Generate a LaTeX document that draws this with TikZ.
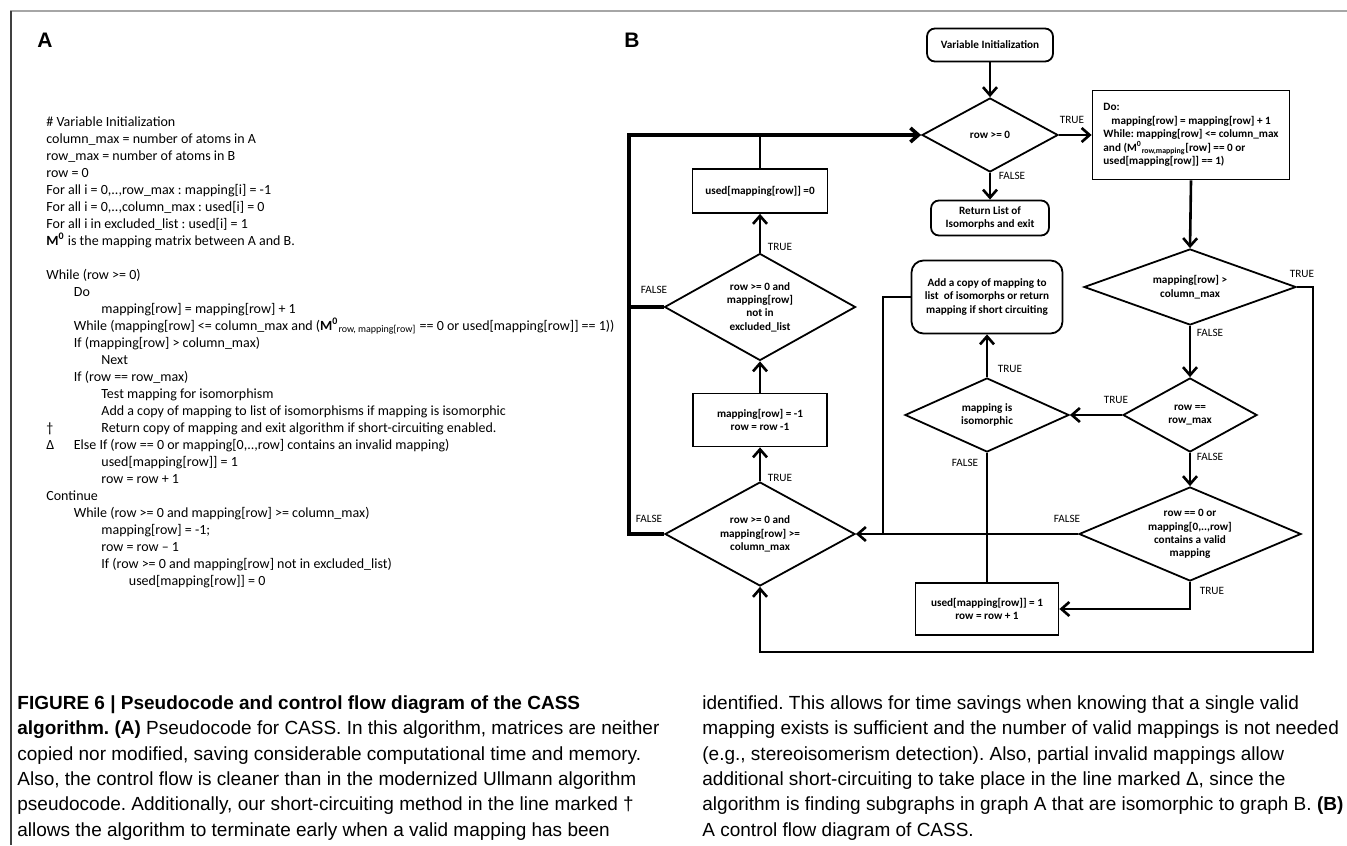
\documentclass[tikz,border=0pt]{standalone}
\usepackage{fontspec}
\setmainfont{Carlito}
\newfontfamily\capfont{Liberation Sans}
\usetikzlibrary{shapes.geometric,arrows.meta}
\newcommand\indt{\hspace*{13.75pt}}
\frenchspacing

\begin{document}
\begin{tikzpicture}[x=0.5pt,y=-0.5pt,
    box/.style={draw, line width=0.9pt, inner sep=0pt, align=center,
        font=\bfseries\fontsize{5.6}{6.7}\selectfont},
    rbox/.style={box, rounded corners=4pt},
    dec/.style 2 args={diamond, draw, line width=0.9pt, inner sep=0pt,
        minimum width=#1, minimum height=#2},
    dtext/.style={align=center, inner sep=0pt, font=\bfseries\fontsize{5.6}{6.7}\selectfont},
    tag/.style={inner sep=0pt, font=\fontsize{5.6}{6.7}\selectfont},
    flow/.style={line width=1.3pt, -{Straight Barb[length=4pt,width=7pt]}},
    link/.style={line width=1.3pt},
    backline/.style={line width=1.8pt},
    code/.style={align=left, inner sep=0pt, font=\fontsize{7.0}{8.5}\selectfont},
    captext/.style={anchor=base west, inner sep=0pt, font=\capfont\fontsize{9.5}{12.7}\selectfont},
    panel/.style={inner sep=0pt, font=\capfont\bfseries\fontsize{10.5}{12}\selectfont}]
    \useasboundingbox (0,0) rectangle (1347,845);
    % frame
    \draw[gray!70, line width=1.2pt] (10,11) -- (1347,11);
    \draw[black!75, line width=0.8pt] (11,11) -- (11,845);
    \node[panel] (pa) at (45,40) {A};
    \node[panel] (pb) at (632,40) {B};

    % pseudocode
    \node[code, anchor=north west] (pcode) at (46,116) {%
        \#~Variable Initialization\\
        column\_max = number of atoms in A\\
        row\_max = number of atoms in B\\
        row = 0\\
        For all i = 0,..,row\_max : mapping[i] = -1\\
        For all i = 0,..,column\_max : used[i] = 0\\
        For all i in excluded\_list : used[i] = 1\\
        \textbf{M\textsuperscript{0}} is the mapping matrix between A and B.\\[8.5pt]
        While (row >= 0)\\
        \indt Do\\
        \indt\indt mapping[row] = mapping[row] + 1\\
        \indt While (mapping[row] <= column\_max and (\textbf{M\textsuperscript{0}}\textsubscript{row, mapping[row]} == 0 or used[mapping[row]] == 1))\\
        \indt If (mapping[row] > column\_max)\\
        \indt\indt Next\\
        \indt If (row == row\_max)\\
        \indt\indt Test mapping for isomorphism\\
        \indt\indt Add a copy of mapping to list of isomorphisms if mapping is isomorphic\\
        \rlap{†}\indt\indt Return copy of mapping and exit algorithm if short-circuiting enabled.\\
        \rlap{Δ}\indt Else If (row == 0 or mapping[0,..,row] contains an invalid mapping)\\
        \indt\indt used[mapping[row]] = 1\\
        \indt\indt row = row + 1\\
        Continue\\
        \indt While (row >= 0 and mapping[row] >= column\_max)\\
        \indt\indt mapping[row] = -1;\\
        \indt\indt row = row – 1\\
        \indt\indt If (row >= 0 and mapping[row] not in excluded\_list)\\
        \indt\indt\indt used[mapping[row]] = 0};

    % flow diagram
    \node[rbox, minimum width=63pt, minimum height=16.5pt] (init) at (990,45) {Variable Initialization};
    \node[dec={68pt}{37pt}] (d0) at (990,135) {};
    \node[dtext] (d0t) at (d0) {row >= 0};
    \node[rbox, minimum width=59pt, minimum height=17.5pt] (ret) at (990,218) {Return List of\\Isomorphs and exit};
    \node[box, align=left, minimum width=98.5pt, minimum height=44.5pt] (doloop) at (1191,135)
        {Do:\\\hspace*{4pt}mapping[row] = mapping[row] + 1\\While: mapping[row] <= column\_max\\and (M\textsuperscript{0}\textsubscript{row,mapping}[row] == 0 or\\used[mapping[row]] == 1)};
    \node[dec={106pt}{38pt}] (dgt) at (1190,287) {};
    \node[dtext] (dgtt) at (dgt) {mapping[row] >\\column\_max};
    \node[dec={67pt}{37pt}] (deq) at (1190,415) {};
    \node[dtext] (deqt) at (deq) {row ==\\row\_max};
    \node[dec={111pt}{47pt}] (dval) at (1190,534) {};
    \node[dtext] (dvalt) at (dval) {row == 0 or\\mapping[0,..,row]\\contains a valid\\mapping};
    \node[dec={82pt}{37pt}] (iso) at (987,415) {};
    \node[dtext] (isot) at (iso) {mapping is\\isomorphic};
    \node[rbox, rounded corners=6pt, minimum width=75.5pt, minimum height=36.5pt] (add) at (987,297)
        {Add a copy of mapping to\\list\ \ of isomorphs or return\\mapping if short circuiting};
    \node[box, minimum width=71.5pt, minimum height=26pt] (used1) at (987,609) {used[mapping[row]] = 1\\row = row + 1};
    \node[dec={95pt}{52pt}] (dcont) at (760,534) {};
    \node[dtext] (dcontt) at (dcont) {row >= 0 and\\mapping[row] >=\\column\_max};
    \node[box, minimum width=67pt, minimum height=26.5pt] (reset) at (760,420) {mapping[row] = -1\\row = row -1};
    \node[dec={95.5pt}{53.5pt}] (dec1) at (760,307) {};
    \node[dtext] (dec1t) at (dec1) {row >= 0 and\\mapping[row]\\not in\\excluded\_list};
    \node[box, minimum width=67.5pt, minimum height=22pt] (used0) at (760,191) {used[mapping[row]] =0};

    \coordinate (ltop) at (629,135);
    \coordinate (rbot) at (1313,652);
    \coordinate (jx) at (883,534);

    \draw[flow] (init) -- (d0);
    \draw[flow] (d0.east) -- (doloop.west);
    \draw[flow] (d0.south) -- (ret.north);
    \draw[flow] (doloop.south) -- (dgt.north);
    \draw[flow] (dgt.east) -| (rbot) -| (dcont.south);
    \draw[flow] (dgt.south) -- (deq.north);
    \draw[flow] (deq.west) -- (iso.east);
    \draw[flow] (deq.south) -- (dval.north);
    \draw[flow] (iso.north) -- (add.south);
    \draw[link] (iso.south) -- (used1.north);
    \draw[link] (add.west) -| (jx);
    \draw[flow] (dval.west) -- (dcont.east);
    \draw[flow] (dval.south) |- (used1.east);
    \draw[flow] (dcont.north) -- (reset.south);
    \draw[flow] (reset.north) -- (dec1.south);
    \draw[flow] (dec1.north) -- (used0.south);
    \draw[link] (used0.north) -- (used0.north |- ltop);
    \draw[backline] (dec1.west) -- (dec1.west -| ltop);
    \draw[flow, backline] (dcont.west) -| (ltop) -- (d0.west);

    % TRUE / FALSE tags
    \node[tag] (tg1) at (1072,120) {TRUE};
    \node[tag] (tg2) at (1012,176) {FALSE};
    \node[tag] (tg3) at (1302,274) {TRUE};
    \node[tag] (tg4) at (1210,333) {FALSE};
    \node[tag] (tg5) at (1116,400) {TRUE};
    \node[tag] (tg6) at (1210,457) {FALSE};
    \node[tag] (tg7) at (1010,369) {TRUE};
    \node[tag] (tg8) at (965,463) {FALSE};
    \node[tag] (tg9) at (1067,519) {FALSE};
    \node[tag] (tg10) at (1212,591) {TRUE};
    \node[tag] (tg11) at (780,478) {TRUE};
    \node[tag] (tg12) at (780,247) {TRUE};
    \node[tag] (tg13) at (654,290) {FALSE};
    \node[tag] (tg14) at (649,519) {FALSE};

    % caption
    \node[captext] (c1) at (17,709) {\textbf{FIGURE 6 | Pseudocode and control flow diagram of the CASS}};
    \node[captext] (c2) at (17,734) {\textbf{algorithm. (A)} Pseudocode for CASS. In this algorithm, matrices are neither};
    \node[captext] (c3) at (17,760) {copied nor modified, saving considerable computational time and memory.};
    \node[captext] (c4) at (17,785) {Also, the control flow is cleaner than in the modernized Ullmann algorithm};
    \node[captext] (c5) at (17,810) {pseudocode. Additionally, our short-circuiting method in the line marked †};
    \node[captext] (c6) at (17,836) {allows the algorithm to terminate early when a valid mapping has been};
    \node[captext] (c7) at (702,709) {identified. This allows for time savings when knowing that a single valid};
    \node[captext] (c8) at (702,734) {mapping exists is sufficient and the number of valid mappings is not needed};
    \node[captext] (c9) at (702,760) {(e.g., stereoisomerism detection). Also, partial invalid mappings allow};
    \node[captext] (c10) at (702,785) {additional short-circuiting to take place in the line marked Δ, since the};
    \node[captext] (c11) at (702,810) {algorithm is finding subgraphs in graph A that are isomorphic to graph B. \textbf{(B)}};
    \node[captext] (c12) at (702,836) {A control flow diagram of CASS.};
\end{tikzpicture}
\end{document}
